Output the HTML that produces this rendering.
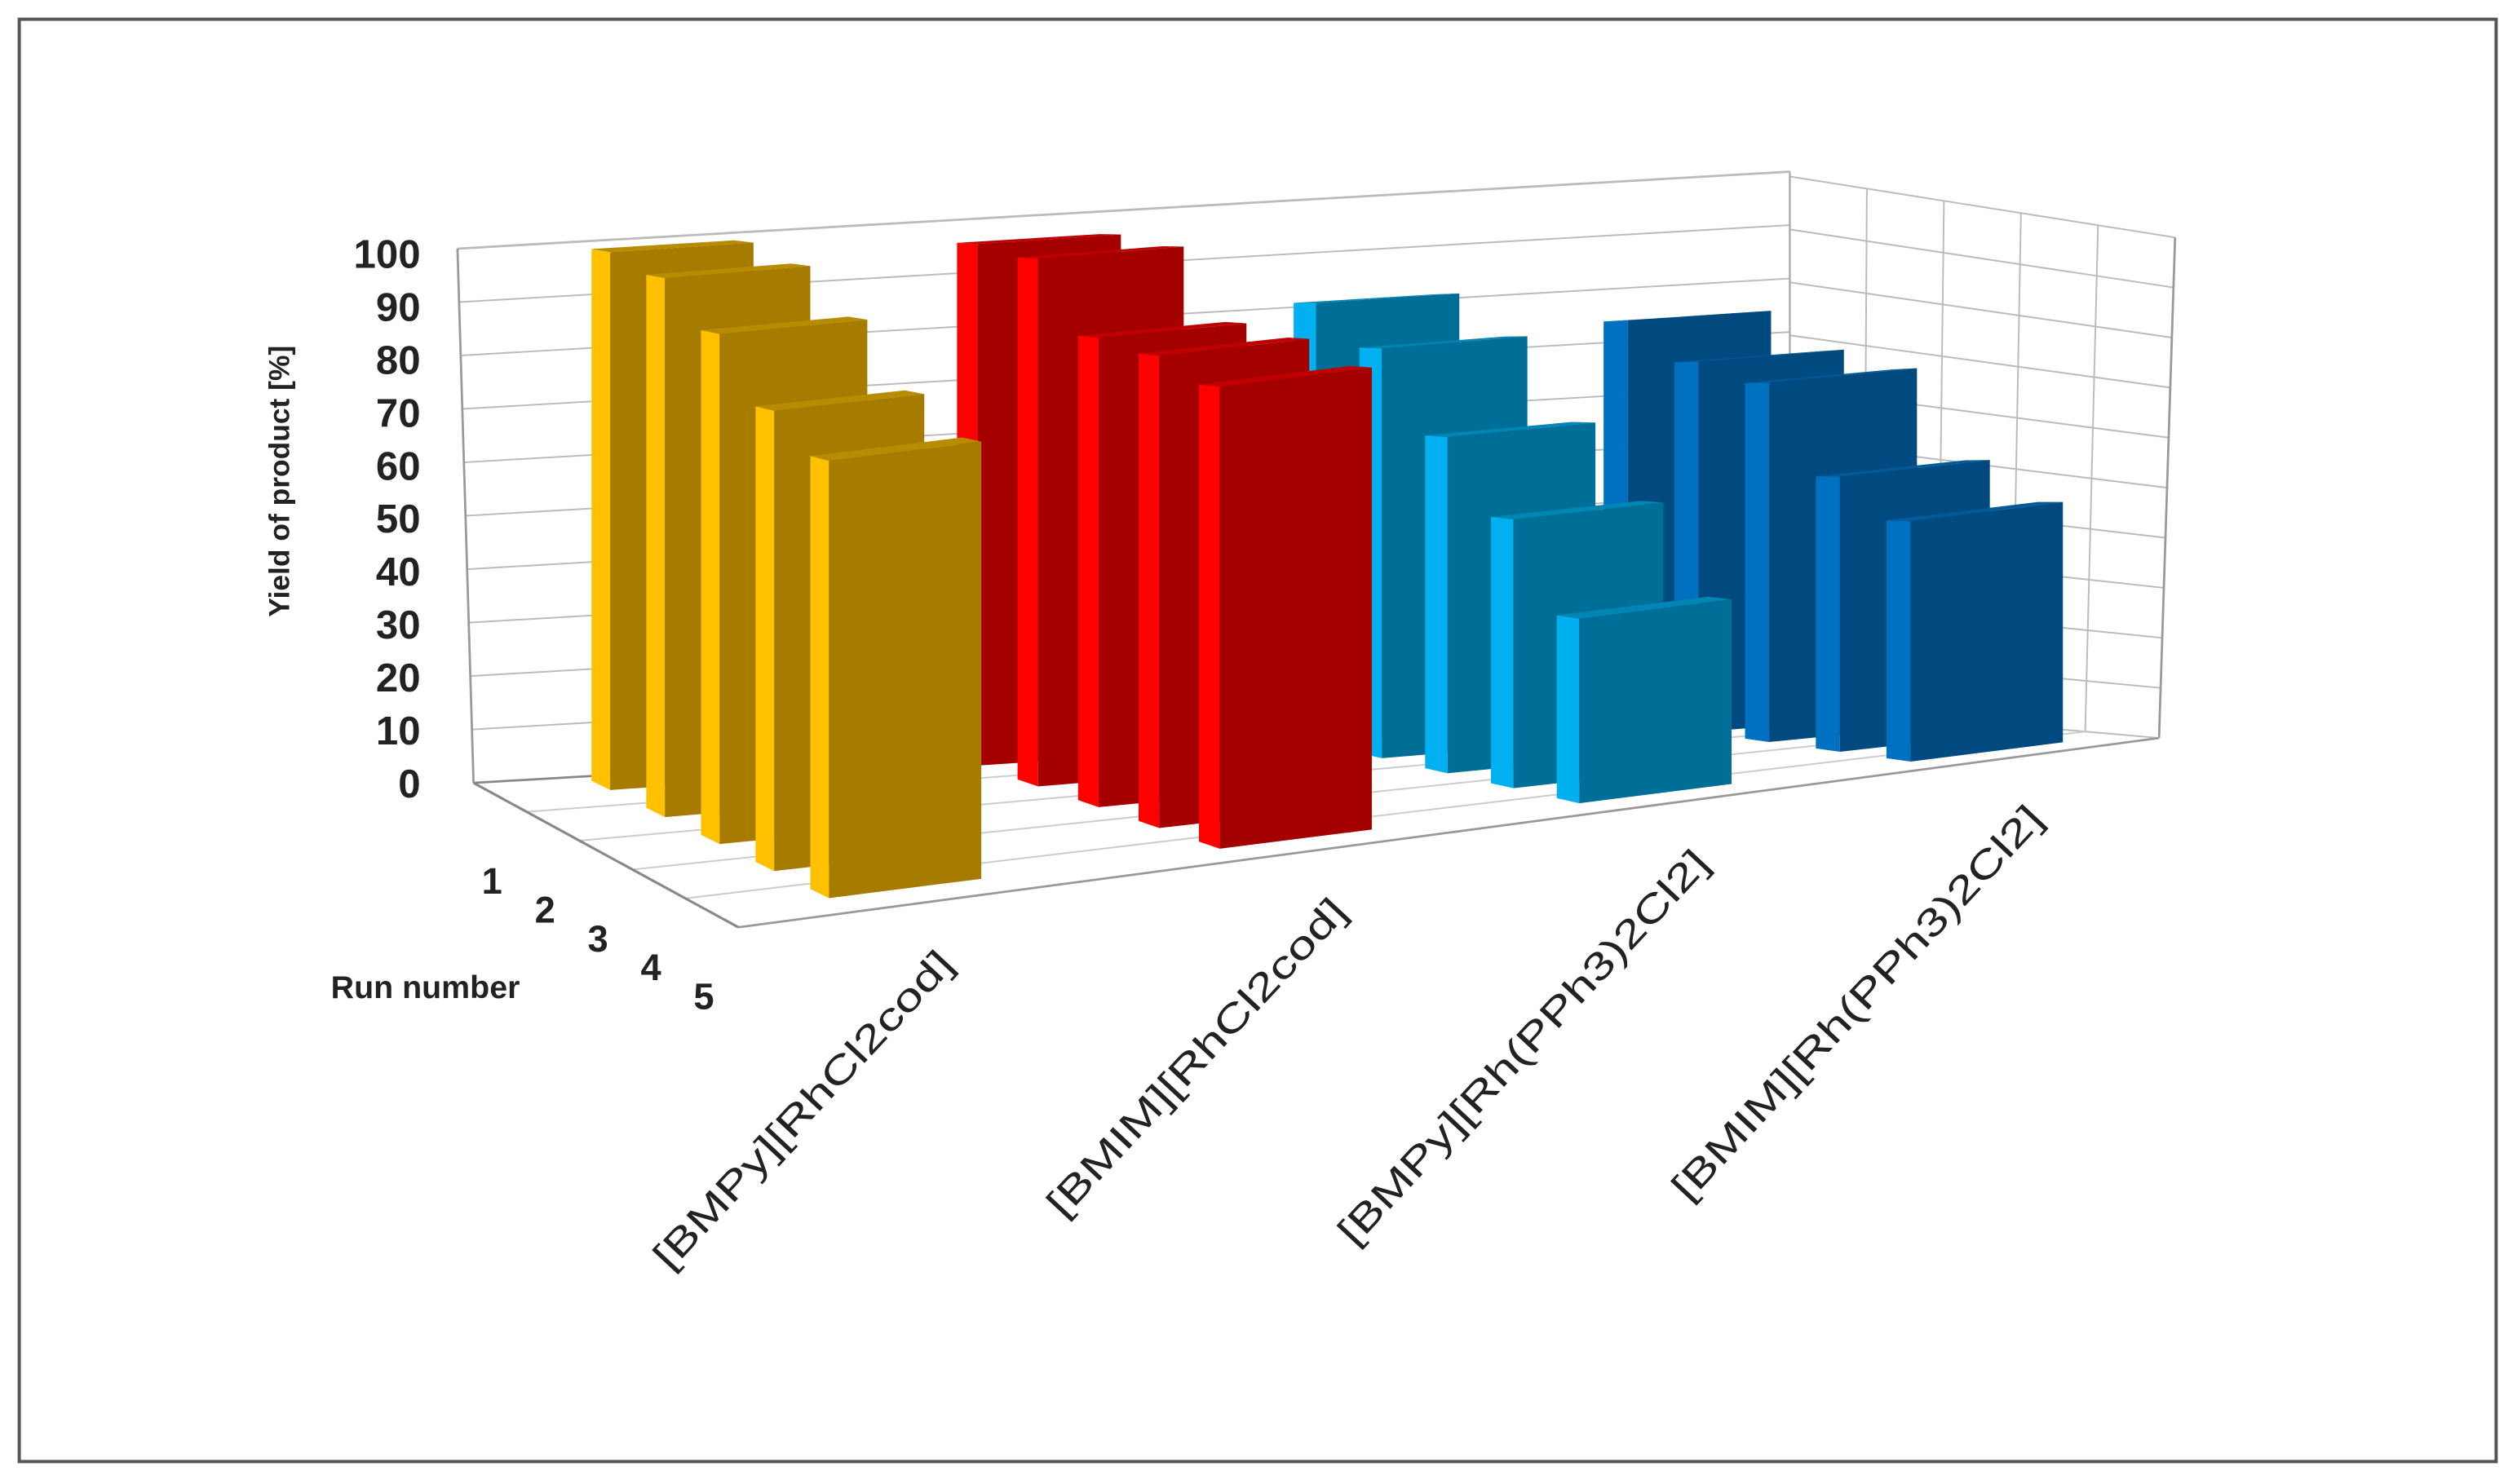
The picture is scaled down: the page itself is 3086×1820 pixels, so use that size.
<!DOCTYPE html>
<html><head><meta charset="utf-8">
<style>
html,body{margin:0;padding:0;background:#fff;}
svg{display:block;}
text{font-family:"Liberation Sans",sans-serif;}
</style></head>
<body>
<svg id="chart" width="3086" height="1820" viewBox="0 0 1568 925" preserveAspectRatio="none" xmlns="http://www.w3.org/2000/svg">
<rect x="12" y="12" width="1543" height="899" fill="#fff" stroke="#555" stroke-width="2"/>
<g id="walls"></g>
<g id="bars"></g>
<g id="labels"></g>
<text transform="translate(180,300) rotate(-90)" text-anchor="middle" font-size="18" font-weight="bold" fill="#222">Yield of product [%]</text>
<text x="265" y="622" text-anchor="middle" font-size="20" font-weight="bold" fill="#222">Run number</text>
</svg>
<script>
const categories = ["[BMPy][RhCl2cod]", "[BMIM][RhCl2cod]", "[BMPy][Rh(PPh3)2Cl2]", "[BMIM][Rh(PPh3)2Cl2]"];
const runs = ["1", "2", "3", "4", "5"];
const yieldBMPyCod = [99, 96, 88, 77, 71];
const yieldBMIMCod = [96, 94, 81, 79, 75];
const yieldBMPyPPh = [81, 73, 58, 45, 30];
const yieldBMIMPPh = [74, 66, 62, 46, 39];
const yTicks = [0, 10, 20, 30, 40, 50, 60, 70, 80, 90, 100];

const series = [yieldBMPyCod, yieldBMIMCod, yieldBMPyPPh, yieldBMIMPPh];
const colors = [
  {front:"#A67C00", side:"#FFC000", top:"#B88C00"},
  {front:"#A50000", side:"#FF0000", top:"#C00000"},
  {front:"#006F97", side:"#00B0F0", top:"#0085B5"},
  {front:"#004A80", side:"#0070C0", top:"#005A9A"}
];
const NS = "http://www.w3.org/2000/svg";
const BL=[295,488], BR=[1115,440], FL=[460,578], FR=[1345,460];
function proj(u,w){
  return [(1-u)*(1-w)*BL[0]+u*(1-w)*BR[0]+(1-u)*w*FL[0]+u*w*FR[0],
          (1-u)*(1-w)*BL[1]+u*(1-w)*BR[1]+(1-u)*w*FL[1]+u*w*FR[1]];
}
function k(w){ return 3.33*(1+0.17*w); }
function runW(r){ return 0.1+0.2*r; }
const uStart=[0.083,0.36,0.615,0.85], du=0.108, dw=0.068;

function poly(parent, pts, fill){
  const p=document.createElementNS(NS,"polygon");
  p.setAttribute("points", pts.map(q=>q[0].toFixed(1)+","+q[1].toFixed(1)).join(" "));
  p.setAttribute("fill", fill);
  parent.appendChild(p); return p;
}
function line(parent,a,b,col,sw){
  const l=document.createElementNS(NS,"line");
  l.setAttribute("x1",a[0]);l.setAttribute("y1",a[1]);l.setAttribute("x2",b[0]);l.setAttribute("y2",b[1]);
  l.setAttribute("stroke",col);l.setAttribute("stroke-width",sw);
  parent.appendChild(l);return l;
}
function text(parent,x,y,s,size,weight,anchor,tr){
  const t=document.createElementNS(NS,"text");
  t.setAttribute("x",x);t.setAttribute("y",y);t.setAttribute("font-size",size);
  t.setAttribute("font-weight",weight);t.setAttribute("text-anchor",anchor);t.setAttribute("fill","#222");
  if(tr)t.setAttribute("transform",tr);
  t.textContent=s;parent.appendChild(t);return t;
}
const walls=document.getElementById("walls");
function backPt(v,u){ const base=proj(u,0); return [base[0]+(1-u)*(-10*v/100), base[1]-v*k(0)]; }
function rightPt(v,w){ const base=proj(1,w); return [base[0]+10*w*v/100, base[1]-v*(3.3-0.18*w)]; }
for(const v of yTicks){
  const g=line(walls,backPt(v,0),backPt(v,1),v===0?"#888":"#bbb",v===0||v===100?1.4:1);
  
  
  const h=line(walls,rightPt(v,0),rightPt(v,1),"#bbb",1);
  
  
}
line(walls,backPt(0,0),backPt(100,0),"#999",1.4);
line(walls,backPt(0,1),backPt(100,1),"#aaa",1.2);
for(let i=1;i<=5;i++){
  const w=i*0.2;
  line(walls,rightPt(0,w),rightPt(100,w),i===5?"#999":"#bbb",i===5?1.4:1);
}
for(let i=1;i<=5;i++){
  const w=i*0.2;
  const f=line(walls,proj(0,w),proj(1,w),i===5?"#999":"#ccc",i===5?1.4:1);
  
  
}
line(walls,proj(0,0),proj(0,1),"#888",1.6);
const bars=document.getElementById("bars");
for(let r=0;r<runs.length;r++){
  for(let g=0;g<categories.length;g++){
    const v=series[g][r], w=runW(r), u0=uStart[g], u1=u0+du, wb=w-dw;
    const flb=proj(u0,w), frb=proj(u1,w), blb=proj(u0,wb), brb=proj(u1,wb);
    const hf=v*k(w), hb=v*k(wb);
    const up=(p,h)=>[p[0],p[1]-h];
    const grp=document.createElementNS(NS,"g");
    
    
    bars.appendChild(grp);
    poly(grp,[blb,up(blb,hb),up(flb,hf),flb],colors[g].side);
    poly(grp,[up(flb,hf),up(frb,hf),up(brb,hb),up(blb,hb)],colors[g].top);
    poly(grp,[flb,frb,up(frb,hf),up(flb,hf)],colors[g].front);
  }
}
const labels=document.getElementById("labels");
for(const v of yTicks){
  const t=text(labels,262,488-v*3.3+9,String(v),25,"bold","end");
  
  
}
for(let r=0;r<runs.length;r++){
  const p=proj(0,runW(r));
  const t=text(labels,p[0]-5,p[1]+60,runs[r],23,"bold","middle");
  
  
}
for(let g=0;g<categories.length;g++){
  const p=proj(uStart[g]+du/2,1);
  const x=p[0]+14, y=p[1]+40;
  const t=text(labels,x,y,categories[g],24,"normal","end","rotate(-47 "+x+" "+y+")");
  t.setAttribute("textLength", (categories[g].length*16.3).toFixed(0));
  t.setAttribute("lengthAdjust","spacingAndGlyphs");
  
  
}
</script>
</body></html>
